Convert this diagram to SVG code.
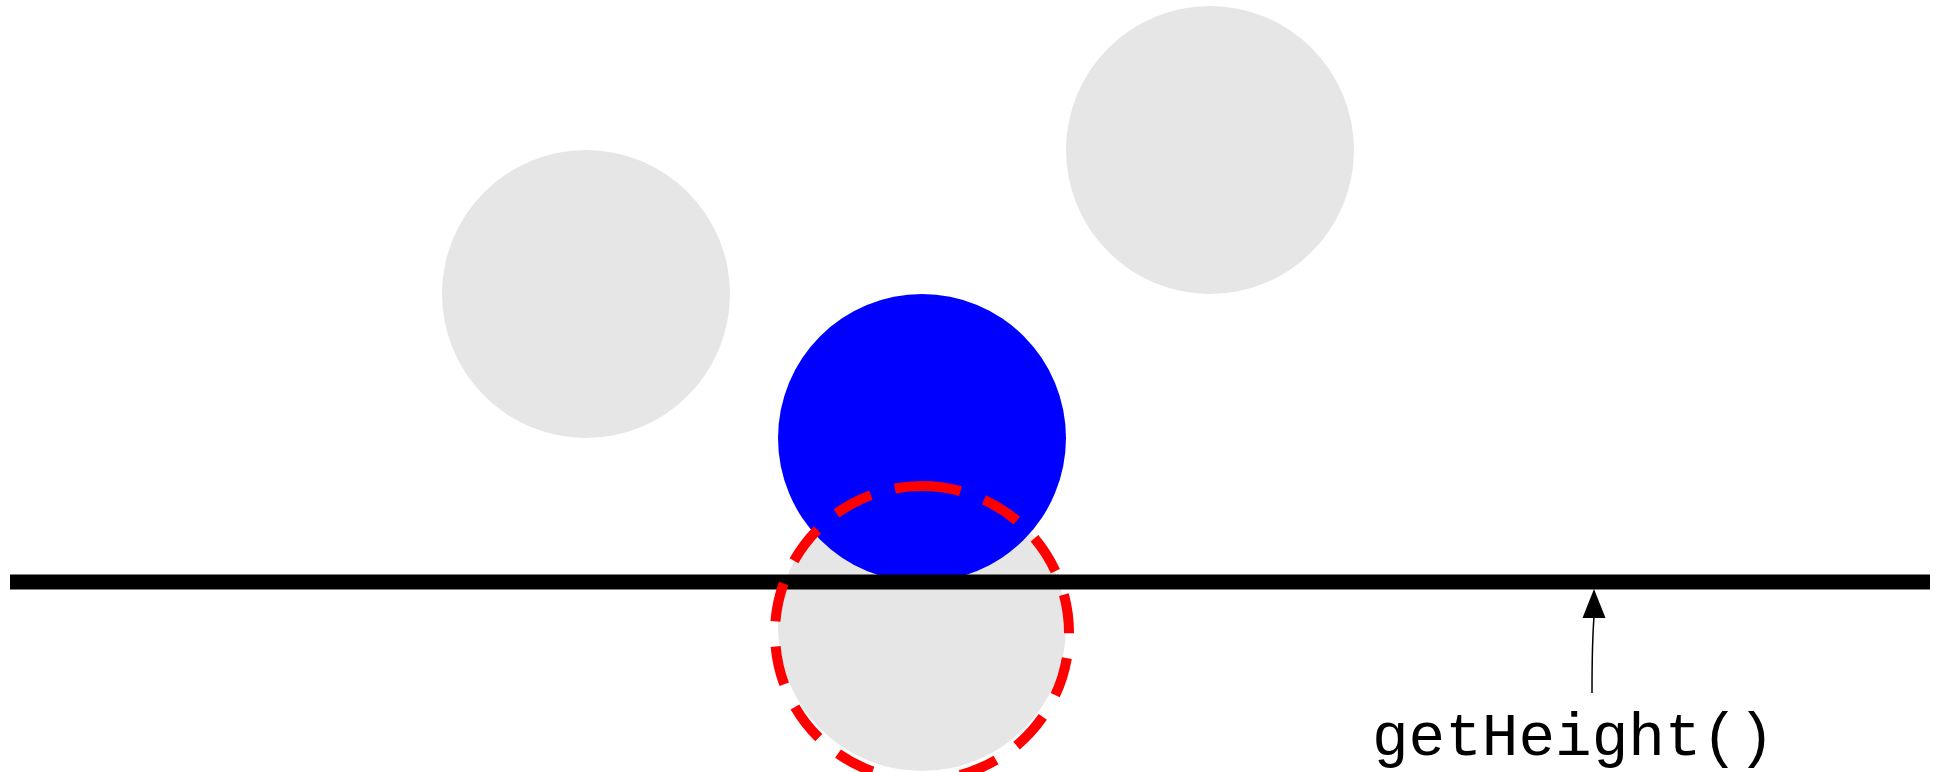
<svg xmlns="http://www.w3.org/2000/svg" width="1945" height="772" viewBox="0 0 1945 772">
<style>
.ghost{fill:#e6e6e6}
.label{font-family:"Liberation Mono","Courier New",monospace;font-size:61px;fill:#000}
</style>
<rect width="1945" height="772" fill="#fff"/>
<g id="ghost1"><circle class="ghost" cx="586" cy="294" r="144"/></g>
<g id="ghost2"><circle class="ghost" cx="1210" cy="150" r="144"/></g>
<g id="ghost3"><circle class="ghost" cx="922" cy="627" r="144"/></g>
<g id="ball"><circle cx="922" cy="438" r="144" fill="#0000ff"/></g>
<g id="ground"><rect x="10" y="574.5" width="1920" height="15" fill="#000"/></g>
<g id="dashed"><circle cx="922" cy="633" r="147" fill="none" stroke="#ff0000" stroke-width="10" stroke-dasharray="39 25" transform="rotate(-90 922 633)"/></g>
<g id="connectors">
<path d="M1592,693 C1592,650 1593,630 1594,617" fill="none" stroke="#000" stroke-width="1.5"/>
<path d="M1594,589 L1605.5,618 L1582.5,618 z" fill="#000"/>
</g>
<g id="label"><text class="label" x="1372" y="755">getHeight()</text></g>
</svg>
